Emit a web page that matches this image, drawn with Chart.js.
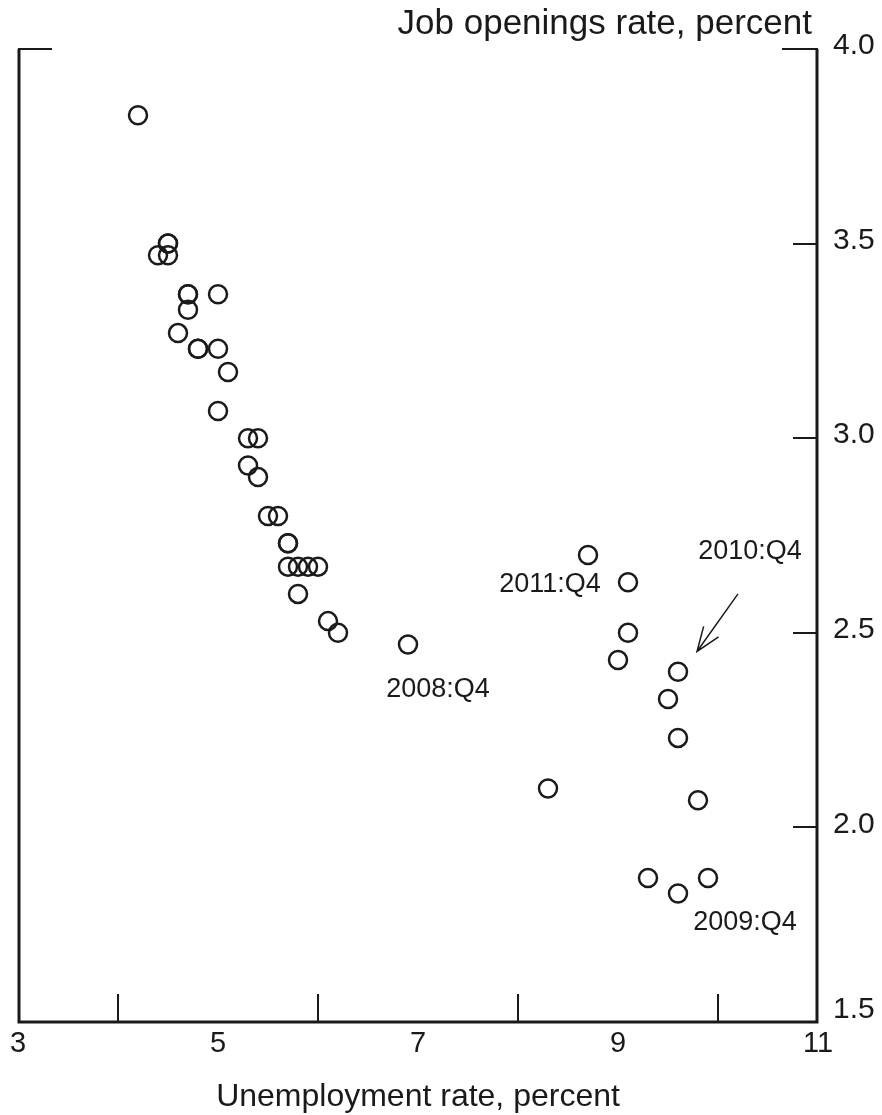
<!DOCTYPE html>
<html>
<head>
<meta charset="utf-8">
<script src="https://cdn.jsdelivr.net/npm/chart.js@4/dist/chart.umd.min.js"></script>
<style>
    body { margin: 0; background: #fff; }
    #chart { display: block; }
</style>
</head>
<body>
<canvas id="chart" width="882" height="1115"></canvas>
<script>
// Unemployment rate (x) and job openings rate (y), quarterly
const unemployment = [
    4.2, 4.5, 4.5, 4.4, 4.5, 4.7, 4.7, 5.0, 4.7, 4.6,
    4.8, 4.8, 5.0, 5.1, 5.0, 5.3, 5.4, 5.3, 5.4, 5.5,
    5.6, 5.7, 5.7, 5.7, 5.8, 5.9, 6.0, 5.8, 6.1, 6.2,
    6.9, 8.3, 9.3, 9.6, 9.9, 9.8, 9.6, 9.5, 9.6, 9.0,
    9.1, 9.1, 8.7
];
const jobOpenings = [
    3.83, 3.50, 3.50, 3.47, 3.47, 3.37, 3.37, 3.37, 3.33, 3.27,
    3.23, 3.23, 3.23, 3.17, 3.07, 3.00, 3.00, 2.93, 2.90, 2.80,
    2.80, 2.73, 2.73, 2.67, 2.67, 2.67, 2.67, 2.60, 2.53, 2.50,
    2.47, 2.10, 1.87, 1.83, 1.87, 2.07, 2.23, 2.33, 2.40, 2.43,
    2.50, 2.63, 2.70
];

// Axes
const xLabels = [3, 5, 7, 9, 11];
const xTickMarks = [4, 6, 8, 10];
const yLabels = ['1.5', '2.0', '2.5', '3.0', '3.5', '4.0'];
const yTickMarks = [2.0, 2.5, 3.0, 3.5];

// Annotations (text centre in data units)
const noteText = ['2011:Q4', '2010:Q4', '2008:Q4', '2009:Q4'];
const noteX = [8.32, 10.32, 7.20, 10.27];
const noteY = [2.625, 2.71, 2.355, 1.755];
// Arrow for 2010:Q4 [from x, from y, to x, to y]
const arrow = [10.20, 2.60, 9.79, 2.452];

const points = unemployment.map((u, i) => ({ x: u, y: jobOpenings[i] }));

const ink = '#1a1a1a';
const font = 'Arial, "Liberation Sans", sans-serif';

const framePlugin = {
    id: 'frame',
    afterDraw(chart) {
        const ctx = chart.ctx;
        const xs = chart.scales.x;
        const ys = chart.scales.y;
        const a = chart.chartArea;
        ctx.save();
        ctx.strokeStyle = ink;
        ctx.fillStyle = ink;

        // frame: left, bottom, right, and corner stubs on top
        ctx.lineWidth = 3;
        ctx.beginPath();
        ctx.moveTo(a.left + 1, a.top);
        ctx.lineTo(a.left + 1, a.bottom);
        ctx.lineTo(a.right - 1, a.bottom);
        ctx.lineTo(a.right - 1, a.top);
        ctx.stroke();
        ctx.lineWidth = 2;
        ctx.beginPath();
        ctx.moveTo(a.left, a.top);
        ctx.lineTo(a.left + 34, a.top);
        ctx.moveTo(a.right - 36, a.top);
        ctx.lineTo(a.right, a.top);
        ctx.stroke();

        // tick marks
        ctx.lineWidth = 2;
        ctx.beginPath();
        xTickMarks.forEach(v => {
            const px = Math.round(xs.getPixelForValue(v));
            ctx.moveTo(px, a.bottom);
            ctx.lineTo(px, a.bottom - 28);
        });
        yTickMarks.forEach(v => {
            const py = Math.round(ys.getPixelForValue(v));
            ctx.moveTo(a.right, py);
            ctx.lineTo(a.right - 25, py);
        });
        ctx.stroke();

        // tick labels
        ctx.font = '29px ' + font;
        ctx.textAlign = 'center';
        ctx.textBaseline = 'middle';
        xLabels.forEach(v => {
            ctx.fillText(String(v), xs.getPixelForValue(v), a.bottom + 22);
        });
        ctx.font = '30px ' + font;
        ctx.textAlign = 'left';
        yLabels.forEach((v, i) => {
            const lift = i === 0 ? 12 : 3;
            ctx.fillText(v, a.right + 15, ys.getPixelForValue(Number(v)) - lift);
        });

        // axis titles
        ctx.font = '35px ' + font;
        ctx.textAlign = 'right';
        ctx.textBaseline = 'alphabetic';
        ctx.fillText('Job openings rate, percent', a.right - 6, 34);
        ctx.textAlign = 'center';
        ctx.font = '32px ' + font;
        ctx.fillText('Unemployment rate, percent', (a.left + a.right) / 2, 1106);

        // annotations
        ctx.font = '27px ' + font;
        ctx.textAlign = 'center';
        ctx.textBaseline = 'middle';
        noteText.forEach((t, i) => {
            ctx.fillText(t, xs.getPixelForValue(noteX[i]), ys.getPixelForValue(noteY[i]));
        });

        // arrow
        const x1 = xs.getPixelForValue(arrow[0]), y1 = ys.getPixelForValue(arrow[1]);
        const x2 = xs.getPixelForValue(arrow[2]), y2 = ys.getPixelForValue(arrow[3]);
        const ang = Math.atan2(y2 - y1, x2 - x1);
        const head = 26, spread = 0.36;
        ctx.lineWidth = 1.5;
        ctx.beginPath();
        ctx.moveTo(x1, y1);
        ctx.lineTo(x2, y2);
        ctx.moveTo(x2 - head * Math.cos(ang - spread), y2 - head * Math.sin(ang - spread));
        ctx.lineTo(x2, y2);
        ctx.lineTo(x2 - head * Math.cos(ang + spread), y2 - head * Math.sin(ang + spread));
        ctx.stroke();
        ctx.restore();
    }
};

new Chart(document.getElementById('chart'), {
    type: 'scatter',
    data: {
        datasets: [{
            data: points,
            pointRadius: 9,
            pointBorderWidth: 2.5,
            pointBorderColor: ink,
            pointBackgroundColor: 'rgba(0,0,0,0)'
        }]
    },
    options: {
        responsive: false,
        animation: false,
        layout: { padding: { left: 18, right: 64, top: 49, bottom: 93 } },
        plugins: {
            legend: { display: false },
            tooltip: { enabled: false }
        },
        scales: {
            x: { type: 'linear', min: 3, max: 11, display: false },
            y: { type: 'linear', min: 1.5, max: 4, display: false }
        }
    },
    plugins: [framePlugin]
});
</script>
</body>
</html>
